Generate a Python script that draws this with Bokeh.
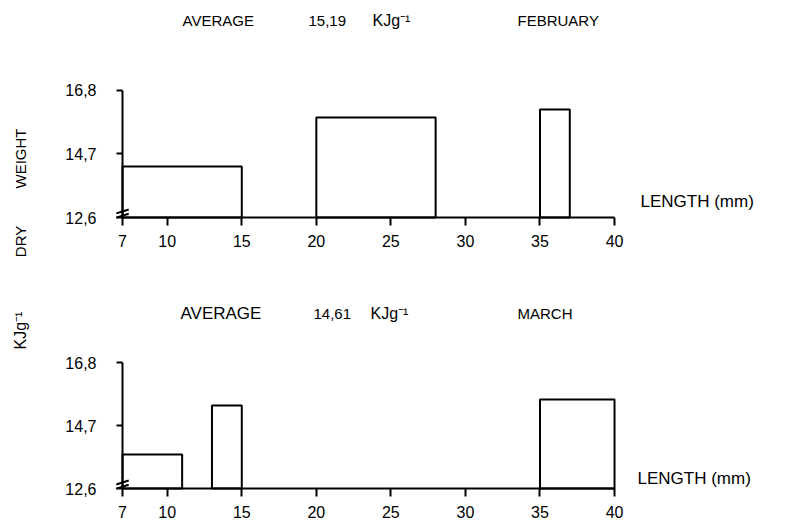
from bokeh.plotting import figure
from bokeh.models import Range1d, FixedTicker, Label
from bokeh.layouts import column
from bokeh.embed import file_html
from bokeh.resources import INLINE
from math import pi

# ---------------- data ----------------
x_ticks = [7, 10, 15, 20, 25, 30, 35, 40]
y_ticks = [12.6, 14.7, 16.8]
y_tick_labels = {12.6: "12,6", 14.7: "14,7", 16.8: "16,8"}

feb_left = [7, 20, 35]
feb_right = [15, 28, 37]
feb_top = [14.29, 15.91, 16.17]

mar_left = [7, 13, 35]
mar_right = [11, 15, 40]
mar_top = [13.73, 15.37, 15.57]

feb_average = "15,19"
mar_average = "14,61"
months = ["FEBRUARY", "MARCH"]
unit = "KJg\u207b\u00b9"

break_y = [12.66, 12.8]

FONT = "Liberation Sans"
FS = "15px"
W = 787
X0_PX = 122          # canvas px of x=7
PX_PER_MM = 14.91


def make_panel(height, axis_py, px_per_unit, left, right, top, texts):
    # axis_py : canvas px of y=12.6 ; px_per_unit : vertical scale
    x_start = 7 - X0_PX / PX_PER_MM
    x_end = 7 + (W - X0_PX) / PX_PER_MM
    y_end = 12.6 + axis_py / px_per_unit
    y_start = 12.6 - (height - axis_py) / px_per_unit
    p = figure(width=W, height=height, output_backend="svg", toolbar_location=None,
               x_range=Range1d(x_start, x_end), y_range=Range1d(y_start, y_end),
               min_border_left=0, min_border_right=0, min_border_top=0, min_border_bottom=0)
    p.outline_line_color = None
    p.grid.visible = False
    p.background_fill_color = "white"
    p.border_fill_color = "white"

    fx = lambda px: 7 + (px - X0_PX) / PX_PER_MM
    fy = lambda py: 12.6 + (axis_py - py) / px_per_unit

    for ax in (p.xaxis[0], p.yaxis[0]):
        ax.axis_line_width = 2
        ax.axis_line_color = "black"
        ax.major_tick_line_width = 2
        ax.major_tick_line_color = "black"
        ax.minor_tick_line_color = None
        ax.major_tick_in = 0
        ax.major_label_text_font = FONT
        ax.major_label_text_font_size = "16px"
        ax.major_label_text_color = "black"

    p.xaxis.fixed_location = 12.6
    p.xaxis.bounds = (7, 40)
    p.xaxis.ticker = FixedTicker(ticks=x_ticks)
    p.xaxis.major_tick_out = 8
    p.xaxis.major_label_standoff = 9

    p.yaxis.fixed_location = 7
    p.yaxis.bounds = (12.6, 16.8)
    p.yaxis.ticker = FixedTicker(ticks=y_ticks)
    p.yaxis.major_label_overrides = y_tick_labels
    p.yaxis.major_tick_out = 6
    p.yaxis.major_label_standoff = 20

    p.quad(left=left, right=right, bottom=12.6, top=top,
           fill_color=None, line_color="black", line_width=2)

    p.scatter(x=[7] * len(break_y), y=break_y, marker="dash", size=13,
              angle=0.3, line_color="black", line_width=2)

    for txt, px, py, ang, fs in texts:
        if ang:
            p.add_layout(Label(x=fx(px), y=fy(py), text=txt, angle=pi / 2,
                               text_align="center", text_baseline="middle",
                               text_font=FONT, text_font_size=fs, text_color="black"))
        else:
            p.add_layout(Label(x=fx(px), y=fy(py), text=txt,
                               text_align="left", text_baseline="middle",
                               text_font=FONT, text_font_size=fs, text_color="black"))
    return p


top_texts = [
    ("WEIGHT", 20, 158, True, FS),
    ("DRY", 20, 241, True, FS),
    ("AVERAGE", 182, 20, False, FS),
    (feb_average, 308, 20, False, FS),
    (unit, 372, 20, False, "16px"),
    (months[0], 517, 20, False, FS),
    ("LENGTH (mm)", 640, 201, False, "17px"),
]
p1 = make_panel(265, 217, 30.24, feb_left, feb_right, feb_top, top_texts)

bot_texts = [
    (unit, 20, 65, True, "16px"),
    ("AVERAGE", 180, 48, False, "17px"),
    (mar_average, 313, 48, False, FS),
    (unit, 370, 48, False, "16px"),
    (months[1], 517, 48, False, FS),
    ("LENGTH (mm)", 637, 213, False, "17px"),
]
p2 = make_panel(261, 223, 30.0, mar_left, mar_right, mar_top, bot_texts)

layout = column(p1, p2, spacing=0)
open("out.html", "w").write(file_html(layout, INLINE))
